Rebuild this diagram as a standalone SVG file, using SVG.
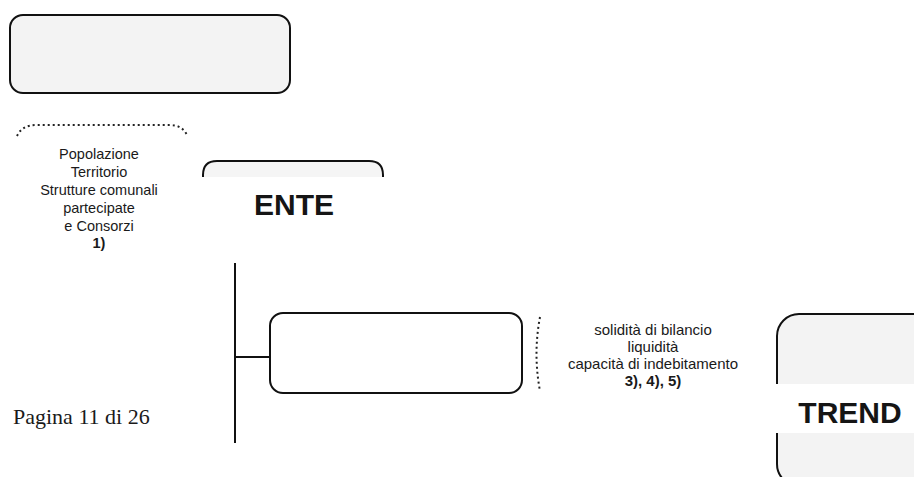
<svg xmlns="http://www.w3.org/2000/svg" width="914" height="477" viewBox="0 0 914 477">
<style>
.box{fill:none;stroke:#111;stroke-width:2}
.gray{fill:#f3f3f3;stroke:#111;stroke-width:2}
.dot{fill:none;stroke:#222;stroke-width:2;stroke-dasharray:2 3}
.t{font-family:"Liberation Sans",Arial,sans-serif;font-size:14.5px;fill:#1a1a1a;text-anchor:middle}
.r{font-size:15px}
.b{font-weight:bold}
.big{font-family:"Liberation Sans",Arial,sans-serif;font-size:30px;font-weight:bold;fill:#151515;text-anchor:middle}
.pg{font-family:"Liberation Serif","Times New Roman",serif;font-size:22px;fill:#1a1a1a}
</style>
<rect width="914" height="477" fill="#fff"/>
<g id="top-box">
<rect class="gray" x="10" y="15" width="280" height="78" rx="13"/>
</g>
<g id="context">
<path class="dot" d="M17,136 Q22,125 36,125 H170 Q182,125 187,135"/>
<text class="t" x="99" y="159">Popolazione</text>
<text class="t" x="99" y="177">Territorio</text>
<text class="t" x="99" y="195">Strutture comunali</text>
<text class="t" x="99" y="213">partecipate</text>
<text class="t" x="99" y="231">e Consorzi</text>
<text class="t b" x="99" y="248">1)</text>
</g>
<g id="ente">
<path d="M203,177 V175 Q203,161 217,161 H369 Q383,161 383,175 V177 Z" fill="#f5f5f5" stroke="none"/>
<path class="box" d="M203,177 V175 Q203,161 217,161 H369 Q383,161 383,175 V177"/>
<text class="big" x="294" y="215">ENTE</text>
</g>
<g id="connectors">
<line x1="235" y1="263" x2="235" y2="443" stroke="#111" stroke-width="2"/>
<line x1="235" y1="357" x2="270" y2="357" stroke="#111" stroke-width="2"/>
</g>
<g id="middle-box">
<rect class="box" x="270" y="313" width="252" height="80" rx="13"/>
</g>
<g id="indicators">
<path class="dot" d="M540,317 Q533,354 540,391"/>
<text class="t r" x="653" y="335">solidità di bilancio</text>
<text class="t r" x="653" y="352">liquidità</text>
<text class="t r" x="653" y="369">capacità di indebitamento</text>
<text class="t r b" x="653" y="386">3), 4), 5)</text>
</g>
<g id="trend">
<rect class="gray" x="777" y="314" width="160" height="172" rx="22"/>
<rect x="775" y="384" width="139" height="49" fill="#fff"/>
<text class="big" x="850" y="423">TREND</text>
</g>
<text class="pg" x="13" y="424">Pagina 11 di 26</text>
</svg>
